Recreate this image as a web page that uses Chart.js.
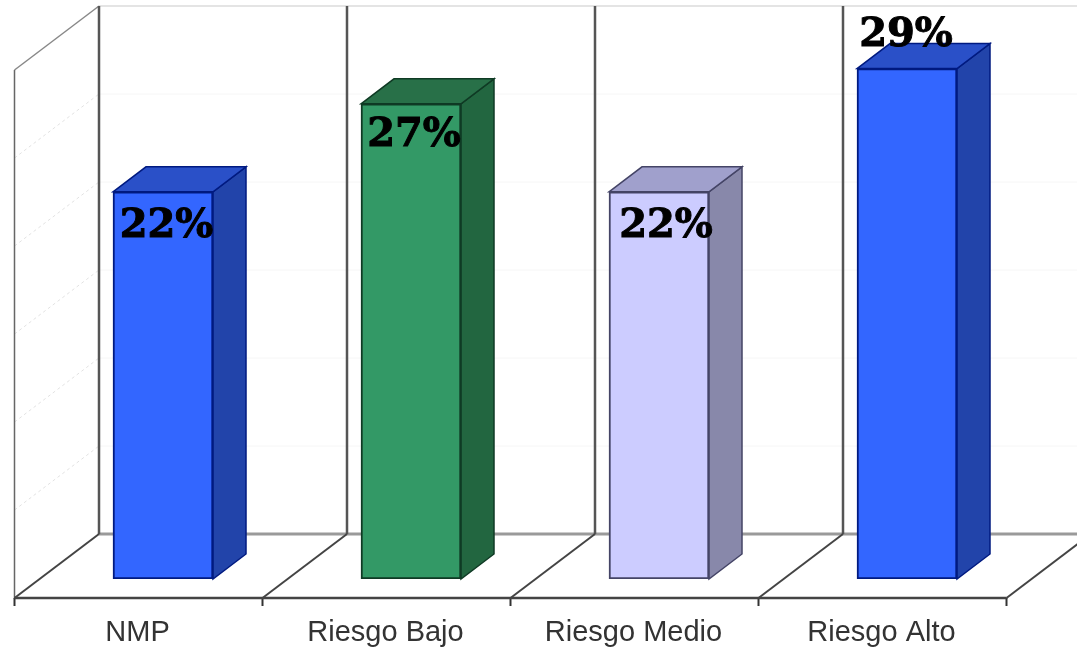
<!DOCTYPE html>
<html>
<head>
<meta charset="utf-8">
<title>Riesgo</title>
<script src="https://cdn.jsdelivr.net/npm/chart.js@4/dist/chart.umd.min.js"></script>
<style>
  html, body { margin: 0; padding: 0; background: #fff; }
  canvas { display: block; }
</style>
</head>
<body>
<canvas id="chart" width="1077" height="650"></canvas>
<script>
// datos del gráfico
const categories = ["NMP", "Riesgo Bajo", "Riesgo Medio", "Riesgo Alto"];
const percents = [22, 27, 22, 29];
const valueLabels = ["22%", "27%", "22%", "29%"];
const frontColors = ["#3366ff", "#339966", "#ccccff", "#3366ff"];
const topColors = ["#2a50c8", "#287048", "#a0a0cc", "#2a50c8"];
const sideColors = ["#2244aa", "#226640", "#8888aa", "#2244aa"];
const edgeColors = ["#001a80", "#0f3a24", "#444466", "#001a80"];
// ajuste de cada etiqueta respecto a su barra
const labelShiftX = [3.5, 3, 7, -1];
const labelShiftY = [45, 42, 45, -23];

// profundidad del suelo: de la barra a la pared y al borde delantero
const BACK_DX = 60, BACK_DY = -45;
const FRONT_DX = -24.5, FRONT_DY = 19;
const BAR_DX = 33, BAR_DY = -25;

const line = (ctx, x1, y1, x2, y2, color, width, dash) => {
  ctx.save();
  ctx.strokeStyle = color;
  ctx.lineWidth = width;
  ctx.setLineDash(dash || []);
  ctx.beginPath();
  ctx.moveTo(x1, y1);
  ctx.lineTo(x2, y2);
  ctx.stroke();
  ctx.restore();
};

const face = (ctx, pts, fill, stroke) => {
  ctx.beginPath();
  pts.forEach((p, i) => (i ? ctx.lineTo(p[0], p[1]) : ctx.moveTo(p[0], p[1])));
  ctx.closePath();
  ctx.fillStyle = fill;
  ctx.fill();
  ctx.strokeStyle = stroke;
  ctx.lineWidth = 1.5;
  ctx.stroke();
};

// paredes, suelo y cuadrícula
const roomPlugin = {
  id: "room",
  beforeDatasetsDraw(chart) {
    const { ctx, scales: { x, y } } = chart;
    const y0 = y.getPixelForValue(0);
    const step = x.getPixelForTick(1) - x.getPixelForTick(0);
    const left = x.getPixelForTick(0) - step / 2 + FRONT_DX;
    const floorY = y0 + FRONT_DY;
    const backY = y0 + BACK_DY;
    const wallDx = BACK_DX - FRONT_DX;
    const topY = y.getPixelForValue(30) + BACK_DY;

    y.ticks.forEach((t) => {
      const py = y.getPixelForValue(t.value);
      if (t.value > 0 && t.value < 30) {
        line(ctx, left + wallDx, py + BACK_DY, chart.width, py + BACK_DY, "#f6f6f6", 1);
        line(ctx, left, py + FRONT_DY, left + wallDx, py + BACK_DY, "#e2e2e2", 1, [3, 3]);
      }
    });
    line(ctx, left + wallDx, topY, chart.width, topY, "#e4e4e4", 2);
    line(ctx, left + wallDx, backY, chart.width, backY, "#9a9a9a", 3);

    line(ctx, left, floorY + 1, left, y.getPixelForValue(30) + FRONT_DY, "#666666", 1.5);
    line(ctx, left, y.getPixelForValue(30) + FRONT_DY, left + wallDx, topY, "#888888", 1.5);

    for (let i = 0; i <= categories.length; i++) {
      const fx = left + i * step;
      if (i < categories.length) line(ctx, fx + wallDx, topY, fx + wallDx, backY, "#555555", 2.5);
      line(ctx, fx, floorY, fx + wallDx, backY, "#444444", 2);
      line(ctx, fx, floorY, fx, floorY + 8, "#333333", 2);
    }
    line(ctx, left, floorY, left + categories.length * step, floorY, "#444444", 2.5);

    // caras lateral y superior de cada barra
    chart.getDatasetMeta(0).data.forEach((bar, i) => {
      const l = bar.x - bar.width / 2, r = bar.x + bar.width / 2;
      face(ctx, [[r, bar.y], [r + BAR_DX, bar.y + BAR_DY], [r + BAR_DX, bar.base + BAR_DY], [r, bar.base]], sideColors[i], edgeColors[i]);
      face(ctx, [[l, bar.y], [l + BAR_DX, bar.y + BAR_DY], [r + BAR_DX, bar.y + BAR_DY], [r, bar.y]], topColors[i], edgeColors[i]);
    });
  },
  afterDatasetsDraw(chart) {
    const { ctx } = chart;
    ctx.save();
    ctx.font = "bold 40px 'DejaVu Serif'";
    ctx.fillStyle = "#000";
    ctx.strokeStyle = "#000";
    ctx.lineWidth = 1;
    ctx.textAlign = "center";
    ctx.textBaseline = "alphabetic";
    chart.getDatasetMeta(0).data.forEach((bar, i) => {
      const tx = bar.x + labelShiftX[i], ty = bar.y + labelShiftY[i];
      ctx.fillText(valueLabels[i], tx, ty);
      ctx.strokeText(valueLabels[i], tx, ty);
    });
    ctx.restore();
  },
};

new Chart(document.getElementById("chart"), {
  type: "bar",
  data: {
    labels: categories,
    datasets: [{
      data: percents,
      backgroundColor: frontColors,
      borderColor: edgeColors,
      borderWidth: 2,
      borderSkipped: false,
      barThickness: 100,
    }],
  },
  options: {
    responsive: false,
    animation: false,
    layout: { padding: { left: 39, right: 46, top: 51, bottom: 0 } },
    plugins: { legend: { display: false }, tooltip: { enabled: false } },
    scales: {
      x: {
        grid: { display: false },
        border: { display: false },
        afterFit: (axis) => { axis.height = 71; },
        ticks: {
          labelOffset: -25.5,
          padding: 29,
          maxRotation: 0,
          color: "#333333",
          font: { family: "'Liberation Sans'", size: 29 },
        },
      },
      y: {
        display: false,
        min: 0,
        max: 30,
        ticks: { stepSize: 5 },
      },
    },
  },
  plugins: [roomPlugin],
});
</script>
</body>
</html>
